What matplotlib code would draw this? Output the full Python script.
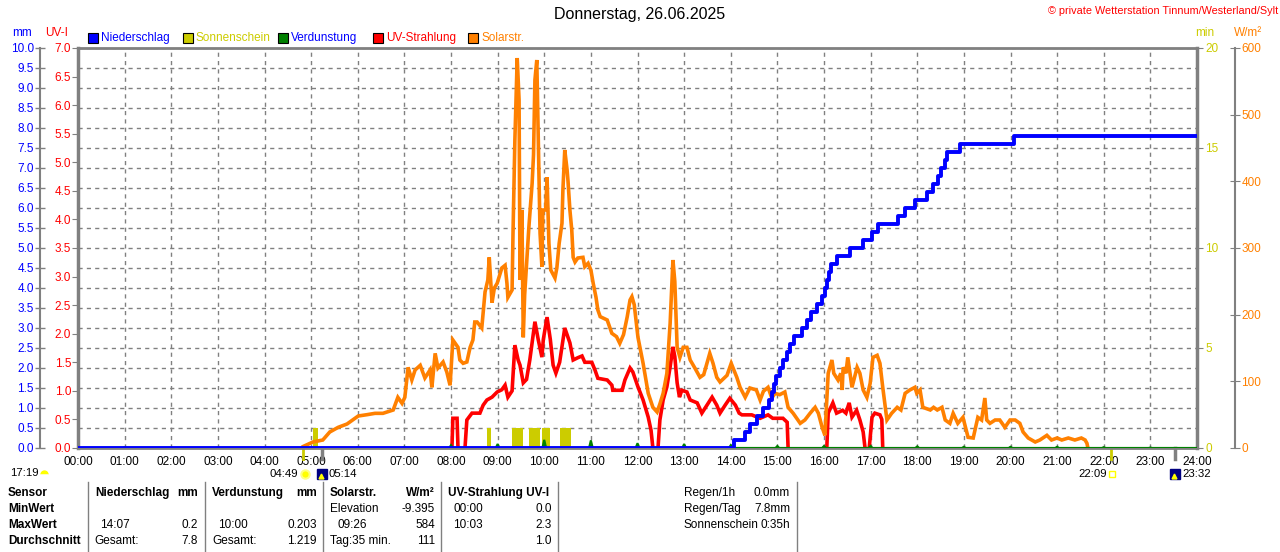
import matplotlib
matplotlib.use('Agg')
import matplotlib.pyplot as plt
from matplotlib.patches import Rectangle
from matplotlib.lines import Line2D
from matplotlib.transforms import blended_transform_factory
import numpy as np

plt.rcParams['font.family'] = ['Liberation Sans', 'DejaVu Sans']

# ---- data ----
title = 'Donnerstag, 26.06.2025'
hours = list(range(25))

# Solarstrahlung W/m2
solar_t = [4.80, 4.82, 5.04, 5.25, 5.40, 5.58, 5.77, 6.01, 6.20, 6.37, 6.54, 6.76, 6.86, 6.95, 7.01,
           7.08, 7.16, 7.23, 7.34, 7.44, 7.55, 7.59, 7.66, 7.72, 7.83, 7.91, 7.98, 8.04, 8.15, 8.19,
           8.26, 8.34, 8.41, 8.47, 8.51, 8.56, 8.66, 8.73, 8.79, 8.82, 8.88, 8.93, 8.99, 9.09, 9.16,
           9.20, 9.22, 9.31, 9.33, 9.37, 9.42, 9.46, 9.48, 9.52, 9.55, 9.58, 9.67, 9.74, 9.77, 9.80,
           9.84, 9.87, 9.91, 9.95, 9.97, 10.03, 10.06, 10.10, 10.14, 10.23, 10.27, 10.32, 10.38, 10.40,
           10.44, 10.49, 10.51, 10.55, 10.59, 10.62, 10.66, 10.72, 10.83, 10.87, 10.94, 11.00, 11.05,
           11.11, 11.15, 11.20, 11.35, 11.45, 11.55, 11.62, 11.70, 11.78, 11.84, 11.88, 11.93, 12.01,
           12.12, 12.23, 12.33, 12.42, 12.48, 12.55, 12.63, 12.70, 12.76, 12.80, 12.85, 12.91, 12.98,
           13.06, 13.13, 13.23, 13.34, 13.42, 13.49, 13.55, 13.62, 13.70, 13.77, 13.92, 14.01, 14.13,
           14.20, 14.31, 14.41, 14.55, 14.63, 14.70, 14.80, 14.88, 14.95, 15.05, 15.16, 15.23, 15.34,
           15.49, 15.59, 15.70, 15.81, 15.88, 15.96, 16.02, 16.09, 16.17, 16.21, 16.30, 16.36, 16.39,
           16.41, 16.47, 16.51, 16.57, 16.60, 16.71, 16.77, 16.84, 16.92, 16.99, 17.05, 17.14, 17.20,
           17.26, 17.35, 17.45, 17.57, 17.65, 17.74, 17.84, 17.95, 17.99, 18.06, 18.12, 18.28, 18.35,
           18.43, 18.53, 18.60, 18.70, 18.77, 18.87, 18.98, 19.09, 19.20, 19.30, 19.38, 19.45, 19.49,
           19.56, 19.67, 19.77, 19.88, 19.99, 20.10, 20.20, 20.27, 20.38, 20.53, 20.63, 20.78, 20.88,
           21.00, 21.10, 21.24, 21.38, 21.52, 21.60, 21.64, 21.66]
solar_w = [0, 2, 9, 12, 24, 31, 36, 48, 50, 52, 52, 57, 76, 67, 76,
           121, 102, 117, 124, 105, 117, 91, 142, 120, 129, 114, 94, 162, 151, 132,
           127, 129, 151, 162, 189, 189, 180, 234, 252, 286, 218, 240, 247, 270, 274,
           247, 226, 237, 322, 462, 585, 522, 252, 357, 166, 230, 331, 397, 440, 552,
           582, 472, 322, 272, 357, 357, 406, 307, 267, 255, 270, 307, 337, 387,
           447, 417, 400, 357, 327, 286, 279, 285, 286, 272, 277, 267, 247,
           226, 207, 197, 192, 172, 167, 157, 170, 197, 222, 227, 215, 166,
           127, 82, 61, 54, 66, 82, 112, 187, 282, 250, 151, 136, 151,
           151, 132, 120, 106, 110, 127, 142, 127, 106, 99, 109, 127, 106,
           91, 76, 90, 87, 72, 85, 91, 75, 82, 80, 84, 61, 52,
           37, 42, 52, 61, 52, 31, 19, 112, 132, 112, 102, 112, 87,
           121, 112, 136, 106, 91, 121, 112, 87, 76, 97, 136, 139, 127,
           91, 42, 52, 61, 57, 82, 87, 91, 82, 87, 61, 57, 61,
           57, 61, 42, 37, 52, 37, 46, 16, 15, 46, 42, 75, 42,
           37, 42, 42, 31, 42, 42, 37, 24, 15, 9, 12, 19, 12,
           15, 12, 15, 12, 15, 12, 7, 0]

# UV-Index
uv_t = [0.0, 8.02, 8.04, 8.13, 8.15, 8.30, 8.34, 8.45, 8.62, 8.69, 8.77, 8.88, 8.99, 9.09, 9.16,
        9.22, 9.31, 9.37, 9.44, 9.48, 9.55, 9.62, 9.69, 9.80, 9.87, 9.95, 9.98, 10.06, 10.13, 10.19,
        10.25, 10.33, 10.44, 10.55, 10.62, 10.72, 10.81, 10.87, 11.02, 11.09, 11.15, 11.35, 11.45,
        11.47, 11.67, 11.73, 11.84, 11.90, 12.01, 12.12, 12.23, 12.29, 12.33, 12.44, 12.48, 12.55,
        12.63, 12.70, 12.76, 12.80, 12.85, 12.90, 12.95, 13.06, 13.13, 13.28, 13.38, 13.49, 13.60,
        13.70, 13.77, 13.88, 13.98, 14.10, 14.18, 14.24, 14.45, 14.63, 14.80, 14.90, 15.12, 15.21,
        15.23, 16.06, 16.09, 16.19, 16.27, 16.40, 16.47, 16.54, 16.60, 16.70, 16.77, 16.84, 16.88,
        16.97, 17.03, 17.09, 17.20, 17.24, 17.26, 24.0]
uv_v = [0, 0, 0.52, 0.52, 0, 0, 0.49, 0.61, 0.61, 0.75, 0.84, 0.89, 0.98, 1.02, 1.10,
        0.89, 1.00, 1.80, 1.54, 1.45, 1.14, 1.20, 1.54, 2.21, 1.90, 1.59, 1.90, 2.29, 1.90, 1.45,
        1.31, 1.50, 2.10, 1.84, 1.54, 1.58, 1.61, 1.50, 1.50, 1.36, 1.22, 1.19, 1.10,
        1.01, 1.01, 1.19, 1.40, 1.33, 1.07, 0.84, 0.54, 0.31, 0, 0, 0.49, 0.84,
        1.07, 1.42, 1.77, 1.60, 1.14, 0.89, 1.01, 0.98, 0.84, 0.79, 0.61, 0.75, 0.89,
        0.75, 0.61, 0.75, 0.87, 0.75, 0.61, 0.58, 0.58, 0.52, 0.58, 0.52, 0.52, 0.45,
        0, 0, 0.61, 0.79, 0.61, 0.66, 0.61, 0.79, 0.54, 0.66, 0.49, 0.28, 0,
        0, 0.54, 0.61, 0.58, 0.50, 0, 0]

# Niederschlag (Tagessumme mm)
rain_t = [0.0, 14.07, 14.30, 14.41, 14.56, 14.70, 14.81, 14.88, 14.93, 14.98, 15.06, 15.11, 15.20,
          15.27, 15.35, 15.52, 15.63, 15.73, 15.84, 15.95, 16.02, 16.06, 16.10, 16.16, 16.27, 16.56,
          16.84, 17.02, 17.16, 17.59, 17.74, 17.95, 18.20, 18.34, 18.45, 18.52, 18.60, 18.63, 18.92,
          20.08, 24.0]
rain_mm = [0.0, 0.2, 0.4, 0.6, 0.8, 1.0, 1.2, 1.4, 1.6, 1.8, 2.0, 2.2, 2.4,
           2.6, 2.8, 3.0, 3.2, 3.4, 3.6, 3.8, 4.0, 4.2, 4.4, 4.6, 4.8, 5.0,
           5.2, 5.4, 5.6, 5.8, 6.0, 6.2, 6.4, 6.6, 6.8, 7.0, 7.2, 7.4, 7.6,
           7.8, 7.8]

# Verdunstung je Stunde (mm)
evap_h = list(range(1, 24))
evap_mm = [0.02, 0.01, 0.01, 0.01, 0.01, 0.02, 0.03, 0.07, 0.10, 0.203, 0.19, 0.12, 0.10,
           0.07, 0.05, 0.05, 0.05, 0.04, 0.03, 0.03, 0.03, 0.02, 0.01]

# Sonnenschein (min)
sun_from = [5.04, 8.77, 9.31, 9.67, 9.95, 10.34]
sun_to = [5.15, 8.86, 9.54, 9.91, 10.12, 10.57]
sun_min = [1, 1, 1, 1, 1, 1]

# Sonnen-/Mondereignisse
sunrise, sunset = 4 + 49 / 60, 22 + 9 / 60
moon_events = [5 + 14 / 60, 23 + 32 / 60]

legend_names = ['Niederschlag', 'Sonnenschein', 'Verdunstung', 'UV-Strahlung', 'Solarstr.']

BLUE, RED, ORANGE, YEL, GREEN, GRAY = '#0000FF', '#FF0000', '#FF8000', '#CCCC00', '#008000', '#808080'
W, H = 1280, 552


def fx(px):
    return px / W


def fy(py):
    return 1 - py / H


fig = plt.figure(figsize=(12.8, 5.52), dpi=100)
rect = [fx(78), fy(448), fx(1197) - fx(78), fy(48) - fy(448)]
ax = fig.add_axes(rect)

# mm axis (far left) + grid
ax.set_xlim(0, 24)
ax.set_ylim(0, 10)
ax.set_yticks(np.arange(0, 10.01, 0.5))
ax.set_yticklabels(['%.1f' % v for v in np.arange(0, 10.01, 0.5)])
ax.spines['left'].set_position(('outward', 27.4))
ax.spines['left'].set_color(GRAY)
ax.spines['left'].set_linewidth(1.5)
ax.spines['right'].set_visible(False)
for s in ['top', 'bottom']:
    ax.spines[s].set_color(GRAY)
    ax.spines[s].set_linewidth(2)
ax.tick_params(axis='y', direction='inout', length=7, width=1, color=GRAY, labelcolor=BLUE,
               labelsize=8.5, pad=1)
ax.set_xticks(hours)
ax.set_xticklabels(['%02d:00' % h for h in hours])
ax.tick_params(axis='x', length=0, pad=6, labelsize=8.5)
ax.grid(True, color=GRAY, linestyle=(0, (3, 3)), linewidth=1)

# UV axis (frame left)
ax_uv = ax.twinx()
ax_uv.yaxis.tick_left()
ax_uv.set_ylim(0, 7)
ax_uv.set_yticks(np.arange(0, 7.01, 0.5))
ax_uv.set_yticklabels(['%.1f' % v for v in np.arange(0, 7.01, 0.5)])
for s in ['right', 'top', 'bottom']:
    ax_uv.spines[s].set_visible(False)
ax_uv.spines['left'].set_color(GRAY)
ax_uv.spines['left'].set_linewidth(2.5)
ax_uv.tick_params(axis='y', direction='out', length=4, color=GRAY, labelcolor=RED, labelsize=8.5, pad=1)

# sunshine axis (frame right)
ax_sun = ax.twinx()
ax_sun.set_ylim(0, 20)
ax_sun.set_yticks([0, 5, 10, 15, 20])
for s in ['left', 'top', 'bottom']:
    ax_sun.spines[s].set_visible(False)
ax_sun.spines['right'].set_color(GRAY)
ax_sun.spines['right'].set_linewidth(2.5)
ax_sun.tick_params(axis='y', direction='out', length=4, color=GRAY, labelcolor=YEL, labelsize=8.5, pad=2)

# solar axis (far right)
ax_sol = ax.twinx()
ax_sol.set_ylim(0, 600)
ax_sol.set_yticks(range(0, 601, 100))
for s in ['left', 'top', 'bottom']:
    ax_sol.spines[s].set_visible(False)
ax_sol.spines['right'].set_position(('outward', 27.4))
ax_sol.spines['right'].set_color(GRAY)
ax_sol.spines['right'].set_linewidth(1.5)
ax_sol.tick_params(axis='y', direction='inout', length=7, color=GRAY, labelcolor=ORANGE, labelsize=8.5, pad=1)

# top layer for rain / evaporation on the mm scale
ax_rain = fig.add_axes(rect, sharex=ax, sharey=ax)
ax_rain.axis('off')

# series
ax_sun.bar(sun_from, sun_min, width=np.array(sun_to) - np.array(sun_from), align='edge',
           color=YEL, linewidth=0)
ax_sol.plot(solar_t, solar_w, color=ORANGE, lw=2.6, solid_joinstyle='miter')

# UV: break the line where it rests on zero, so the baseline stays visible
uv_x, uv_y = [], []
for i, (t, v) in enumerate(zip(uv_t, uv_v)):
    if i > 0 and v == 0 and uv_v[i - 1] == 0:
        uv_x.append(t)
        uv_y.append(np.nan)
    uv_x.append(t)
    uv_y.append(v)
ax_uv.plot(uv_x, uv_y, color=RED, lw=2.6, solid_joinstyle='miter')

ev_x, ev_y = [0.0], [0.0]
for h, v in zip(evap_h, evap_mm):
    ev_x += [h - 0.04, h, h + 0.04]
    ev_y += [0, v, 0]
ev_x.append(24.0)
ev_y.append(0.0)
ax_rain.fill(ev_x, ev_y, color=GREEN, lw=1.5)
ax_rain.step(rain_t, rain_mm, where='post', color=BLUE, lw=2.8)
ax_rain.set_xlim(0, 24)

# sunrise / sunset / moon markers below the axis
trans = blended_transform_factory(ax.transData, ax.transAxes)
for t, c in [(sunrise, YEL), (sunset, YEL)]:
    ax.plot([t, t], [0, -0.028], color=c, lw=2, transform=trans, clip_on=False)
for t in moon_events:
    ax.plot([t, t], [0, -0.028], color=GRAY, lw=2.5, transform=trans, clip_on=False)

yi = -0.064
fs_ev = 8.2
ax.plot(sunrise + 0.06, yi, 'o', ms=6, color='#FFFF00', mec='#FFFF80', mew=1.5, transform=trans, clip_on=False)
ax.text(sunrise - 0.09, yi, '04:49', ha='right', va='center', fontsize=fs_ev, transform=trans)
ax.plot(sunset + 0.03, yi, 's', ms=4, mfc='none', mec='#FFFF00', mew=1, transform=trans, clip_on=False)
ax.text(sunset - 0.09, yi, '22:09', ha='right', va='center', fontsize=fs_ev, transform=trans)
for t in moon_events:
    ax.plot(t, yi, 's', ms=7, color='#000080', transform=trans, clip_on=False)
    ax.plot(t - 0.02, yi - 0.006, '^', ms=3.5, color='#FFFF00', transform=trans, clip_on=False)
    ax.text(t + 0.15, yi, '%02d:%02d' % (int(t), round((t % 1) * 60)), ha='left', va='center',
            fontsize=fs_ev, transform=trans)
fig.text(fx(10), fy(473), '17:19', ha='left', va='center', fontsize=fs_ev)
fig.add_artist(Line2D([fx(44)], [fy(474)], marker='o', ms=6, color='#FFFF00', fillstyle='top',
                      markerfacecoloralt='white', mew=0, transform=fig.transFigure))

# header texts
fig.text(0.5, fy(15), title, ha='center', va='center', fontsize=11.5)
fig.text(fx(1278), fy(11), '© private Wetterstation Tinnum/Westerland/Sylt', ha='right', va='center',
         fontsize=7.8, color=RED)
fig.text(fx(22), fy(33), 'mm', ha='center', va='center', fontsize=8.5, color=BLUE)
fig.text(fx(57), fy(33), 'UV-I', ha='center', va='center', fontsize=8.5, color=RED)
fig.text(fx(1205), fy(33), 'min', ha='center', va='center', fontsize=8.5, color=YEL)
fig.text(fx(1248), fy(33), 'W/m²', ha='center', va='center', fontsize=8.5, color=ORANGE)

# legend
leg_fill = [BLUE, YEL, GREEN, RED, ORANGE]
leg_text = [BLUE, YEL, BLUE, RED, ORANGE]
for i, name in enumerate(legend_names):
    x0 = 88 + i * 95
    fig.add_artist(Rectangle((fx(x0), fy(43)), fx(10), 10 / H, facecolor=leg_fill[i],
                             edgecolor='black', lw=0.8, transform=fig.transFigure))
    fig.text(fx(x0 + 13), fy(38), name, ha='left', va='center', fontsize=8.5, color=leg_text[i])

# statistics table
for xp in [88, 205, 323, 441, 558, 797]:
    fig.add_artist(Line2D([fx(xp), fx(xp)], [fy(482), 0], color=GRAY, lw=1, transform=fig.transFigure))

rows_y = [493, 509, 525, 541]
cells = [
    ('Sensor', 8, 0, 'left', True), ('MinWert', 8, 1, 'left', True),
    ('MaxWert', 8, 2, 'left', True), ('Durchschnitt', 8, 3, 'left', True),
    ('Niederschlag', 95, 0, 'left', True), ('mm', 198, 0, 'right', True),
    ('14:07', 100, 2, 'left', False), ('0.2', 198, 2, 'right', False),
    ('Gesamt:', 94, 3, 'left', False), ('7.8', 198, 3, 'right', False),
    ('Verdunstung', 212, 0, 'left', True), ('mm', 317, 0, 'right', True),
    ('10:00', 218, 2, 'left', False), ('0.203', 317, 2, 'right', False),
    ('Gesamt:', 212, 3, 'left', False), ('1.219', 317, 3, 'right', False),
    ('Solarstr.', 330, 0, 'left', True), ('W/m²', 435, 0, 'right', True),
    ('Elevation', 330, 1, 'left', False), ('-9.395', 435, 1, 'right', False),
    ('09:26', 337, 2, 'left', False), ('584', 435, 2, 'right', False),
    ('Tag:35 min.', 330, 3, 'left', False), ('111', 435, 3, 'right', False),
    ('UV-Strahlung UV-I', 448, 0, 'left', True),
    ('00:00', 453, 1, 'left', False), ('0.0', 552, 1, 'right', False),
    ('10:03', 453, 2, 'left', False), ('2.3', 552, 2, 'right', False),
    ('1.0', 552, 3, 'right', False),
    ('Regen/1h', 684, 0, 'left', False), ('0.0mm', 790, 0, 'right', False),
    ('Regen/Tag', 684, 1, 'left', False), ('7.8mm', 790, 1, 'right', False),
    ('Sonnenschein', 684, 2, 'left', False), ('0:35h', 790, 2, 'right', False),
]
for txt, xp, r, ha, bold in cells:
    fig.text(fx(xp), fy(rows_y[r]), txt, ha=ha, va='center', fontsize=8.5,
             fontweight='bold' if bold else 'normal')

fig.savefig('out.png', dpi=100, facecolor='white')
